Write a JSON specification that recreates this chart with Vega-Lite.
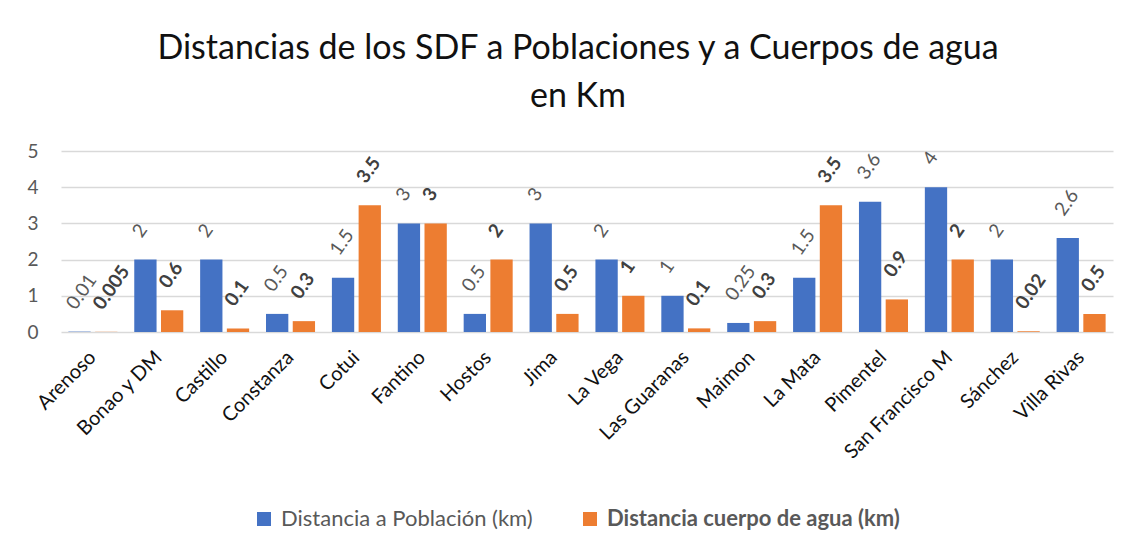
{
  "$schema": "https://vega.github.io/schema/vega-lite/v6.json",
  "width": 1052,
  "height": 181,
  "autosize": {"type": "none"},
  "padding": {"left": 61, "top": 151, "right": 18, "bottom": 222},
  "background": "white",
  "title": {
    "text": ["Distancias de los SDF a Poblaciones y a Cuerpos de agua", "en Km"],
    "font": "Lato",
    "fontSize": 34,
    "fontWeight": "normal",
    "color": "#111111",
    "lineHeight": 48,
    "anchor": "middle",
    "offset": 28,
    "dx": -9
  },
  "data": {
    "values": [
      {"municipio": "Arenoso", "serie": "Distancia a Población (km)", "km": 0.01},
      {"municipio": "Arenoso", "serie": "Distancia cuerpo de agua (km)", "km": 0.005},
      {"municipio": "Bonao y DM", "serie": "Distancia a Población (km)", "km": 2},
      {"municipio": "Bonao y DM", "serie": "Distancia cuerpo de agua (km)", "km": 0.6},
      {"municipio": "Castillo", "serie": "Distancia a Población (km)", "km": 2},
      {"municipio": "Castillo", "serie": "Distancia cuerpo de agua (km)", "km": 0.1},
      {"municipio": "Constanza", "serie": "Distancia a Población (km)", "km": 0.5},
      {"municipio": "Constanza", "serie": "Distancia cuerpo de agua (km)", "km": 0.3},
      {"municipio": "Cotui", "serie": "Distancia a Población (km)", "km": 1.5},
      {"municipio": "Cotui", "serie": "Distancia cuerpo de agua (km)", "km": 3.5},
      {"municipio": "Fantino", "serie": "Distancia a Población (km)", "km": 3},
      {"municipio": "Fantino", "serie": "Distancia cuerpo de agua (km)", "km": 3},
      {"municipio": "Hostos", "serie": "Distancia a Población (km)", "km": 0.5},
      {"municipio": "Hostos", "serie": "Distancia cuerpo de agua (km)", "km": 2},
      {"municipio": "Jima", "serie": "Distancia a Población (km)", "km": 3},
      {"municipio": "Jima", "serie": "Distancia cuerpo de agua (km)", "km": 0.5},
      {"municipio": "La Vega", "serie": "Distancia a Población (km)", "km": 2},
      {"municipio": "La Vega", "serie": "Distancia cuerpo de agua (km)", "km": 1},
      {"municipio": "Las Guaranas", "serie": "Distancia a Población (km)", "km": 1},
      {"municipio": "Las Guaranas", "serie": "Distancia cuerpo de agua (km)", "km": 0.1},
      {"municipio": "Maimon", "serie": "Distancia a Población (km)", "km": 0.25},
      {"municipio": "Maimon", "serie": "Distancia cuerpo de agua (km)", "km": 0.3},
      {"municipio": "La Mata", "serie": "Distancia a Población (km)", "km": 1.5},
      {"municipio": "La Mata", "serie": "Distancia cuerpo de agua (km)", "km": 3.5},
      {"municipio": "Pimentel", "serie": "Distancia a Población (km)", "km": 3.6},
      {"municipio": "Pimentel", "serie": "Distancia cuerpo de agua (km)", "km": 0.9},
      {"municipio": "San Francisco M", "serie": "Distancia a Población (km)", "km": 4},
      {"municipio": "San Francisco M", "serie": "Distancia cuerpo de agua (km)", "km": 2},
      {"municipio": "Sánchez", "serie": "Distancia a Población (km)", "km": 2},
      {"municipio": "Sánchez", "serie": "Distancia cuerpo de agua (km)", "km": 0.02},
      {"municipio": "Villa Rivas", "serie": "Distancia a Población (km)", "km": 2.6},
      {"municipio": "Villa Rivas", "serie": "Distancia cuerpo de agua (km)", "km": 0.5}
    ]
  },
  "encoding": {
    "x": {
      "field": "municipio",
      "type": "nominal",
      "sort": null,
      "scale": {"paddingInner": 0.256, "paddingOuter": 0.112},
      "axis": {
        "title": null,
        "labelAngle": -45,
        "labelAlign": "right",
        "labelBaseline": "middle",
        "labelPadding": 22,
        "labelFont": "Lato",
        "labelFontSize": 20,
        "labelColor": "#111111",
        "ticks": false,
        "domain": false,
        "grid": false
      }
    },
    "xOffset": {
      "field": "serie",
      "type": "nominal",
      "scale": {"domain": ["Distancia a Población (km)", "Distancia cuerpo de agua (km)"], "paddingInner": 0.165, "paddingOuter": 0}
    },
    "y": {
      "field": "km",
      "type": "quantitative",
      "scale": {"domain": [0, 5], "nice": false},
      "axis": {
        "title": null,
        "values": [0, 1, 2, 3, 4, 5],
        "labelFont": "Lato",
        "labelFontSize": 19,
        "labelColor": "#595959",
        "labelPadding": 23,
        "ticks": false,
        "domain": false,
        "grid": true,
        "gridColor": "#d9d9d9",
        "gridWidth": 1.5
      }
    }
  },
  "layer": [
    {
      "mark": {"type": "bar"},
      "encoding": {
        "color": {
          "field": "serie",
          "type": "nominal",
          "scale": {"domain": ["Distancia a Población (km)", "Distancia cuerpo de agua (km)"], "range": ["#4472C4", "#ED7D31"]},
          "legend": {
            "title": null,
            "orient": "none",
            "legendX": 192,
            "legendY": 357,
            "direction": "horizontal",
            "symbolType": "square",
            "symbolSize": 196,
            "symbolStrokeWidth": 0,
            "labelFont": "Lato",
            "labelFontSize": 22,
            "labelColor": "#595959",
            "labelFontWeight": {"expr": "datum.label == 'Distancia cuerpo de agua (km)' ? 'bold' : 'normal'"},
            "labelOffset": 6,
            "labelLimit": 400,
            "columnPadding": 46,
            "padding": 0
          }
        }
      }
    },
    {
      "transform": [{"filter": "datum.serie == 'Distancia a Población (km)'"}],
      "mark": {"type": "text", "angle": 305, "align": "left", "baseline": "middle", "dx": 15, "dy": -21, "font": "Lato", "fontSize": 19, "color": "#595959"},
      "encoding": {"text": {"field": "km", "type": "quantitative", "format": ".3~f"}}
    },
    {
      "transform": [{"filter": "datum.serie == 'Distancia cuerpo de agua (km)'"}],
      "mark": {"type": "text", "angle": 305, "align": "left", "baseline": "middle", "dx": 15, "dy": -21, "font": "Lato", "fontSize": 19, "fontWeight": "bold", "color": "#404040"},
      "encoding": {"text": {"field": "km", "type": "quantitative", "format": ".3~f"}}
    }
  ],
  "config": {
    "view": {"stroke": null}
  }
}
